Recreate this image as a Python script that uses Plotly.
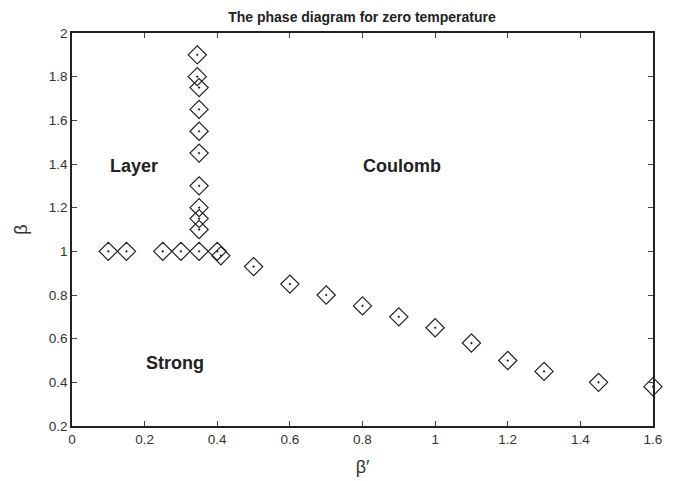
import plotly.graph_objects as go

# Phase-boundary points (beta', beta)
beta_prime = [0.1, 0.15, 0.25, 0.3, 0.35, 0.4, 0.41,
              0.345, 0.345, 0.35, 0.35, 0.35, 0.35, 0.35, 0.35, 0.35, 0.35,
              0.5, 0.6, 0.7, 0.8, 0.9, 1.0, 1.1, 1.2, 1.3, 1.45, 1.6]
beta = [1.0, 1.0, 1.0, 1.0, 1.0, 1.0, 0.98,
        1.9, 1.8, 1.75, 1.65, 1.55, 1.45, 1.3, 1.2, 1.15, 1.1,
        0.93, 0.85, 0.8, 0.75, 0.7, 0.65, 0.58, 0.5, 0.45, 0.4, 0.38]

region_labels = ["Layer", "Coulomb", "Strong"]
region_x = [0.17, 0.91, 0.285]
region_y = [1.39, 1.39, 0.49]

x_ticks = [0, 0.2, 0.4, 0.6, 0.8, 1, 1.2, 1.4, 1.6]
y_ticks = [0.2, 0.4, 0.6, 0.8, 1, 1.2, 1.4, 1.6, 1.8, 2]

FONT = "Liberation Sans, Arial, sans-serif"

fig = go.Figure()
fig.add_trace(go.Scatter(
    x=beta_prime, y=beta, mode="markers",
    marker=dict(symbol="diamond-open-dot", size=14, color="#222",
                line=dict(color="#222", width=1.2)),
    showlegend=False, cliponaxis=False,
))

for t, x, y in zip(region_labels, region_x, region_y):
    fig.add_annotation(x=x, y=y, text="<b>%s</b>" % t, showarrow=False,
                       font=dict(family=FONT, size=18, color="#222"))

axis_common = dict(showgrid=False, zeroline=False, showline=True,
                   linecolor="#222", linewidth=1.5, mirror="ticks",
                   ticks="inside", ticklen=5, tickcolor="#444", tickwidth=1,
                   automargin=False,
                   tickfont=dict(family=FONT, size=13.5, color="#333"))

fig.update_xaxes(range=[0, 1.6], tickvals=x_ticks,
                 ticktext=[str(v) for v in x_ticks],
                 title=dict(text="β′", font=dict(family=FONT, size=18, color="#333"),
                            standoff=14),
                 **axis_common)
fig.update_yaxes(range=[0.2, 2], tickvals=y_ticks,
                 ticktext=[str(v) for v in y_ticks],
                 title=dict(text="β", font=dict(family=FONT, size=18, color="#333"),
                            standoff=16),
                 **axis_common)

fig.update_layout(
    width=683, height=481,
    margin=dict(l=72, r=30, t=33, b=55),
    paper_bgcolor="white", plot_bgcolor="white",
    title=dict(text="<b>The phase diagram for zero temperature</b>",
               x=362 / 683, xanchor="center", y=1 - 17 / 481, yanchor="middle",
               font=dict(family=FONT, size=14, color="#222")),
)

fig.write_html("out.html")
